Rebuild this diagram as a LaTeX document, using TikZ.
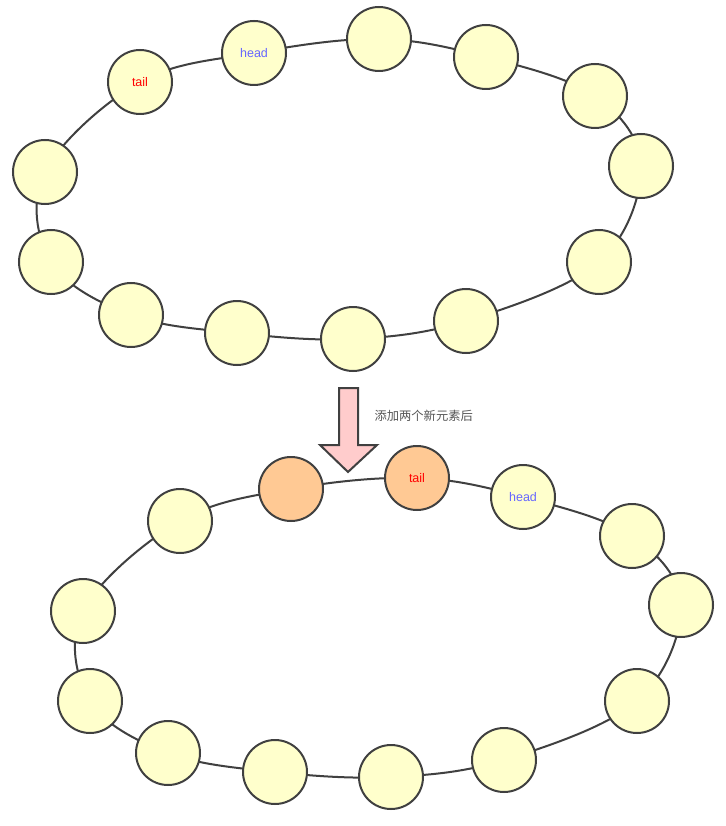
\documentclass[tikz,border=0pt]{standalone}
\usepackage{fontspec}
\setmainfont{Liberation Sans}
\newfontfamily\cjk{Noto Sans CJK SC}
\usetikzlibrary{backgrounds}
\definecolor{ylw}{HTML}{FFFFCC}
\definecolor{org}{HTML}{FFC994}
\definecolor{pnk}{HTML}{FFCCCC}
\definecolor{edge}{HTML}{404040}
\definecolor{headc}{HTML}{6666FF}
\definecolor{lblc}{HTML}{555555}
\tikzset{
  elem/.style={circle, draw=edge, line width=2pt, fill=ylw, minimum size=64pt, inner sep=0pt, font=\fontsize{12.5}{14}\selectfont},
  newelem/.style={elem, fill=org},
  ring/.style={draw=edge, line width=2pt},
}
\begin{document}
\begin{tikzpicture}[x=1pt,y=-1pt]
\useasboundingbox (0,0) rectangle (725,826);
% top ring
\node[elem] (a1) at (140,82) {\textcolor{red}{tail}};
\node[elem] (a2) at (254,53) {\textcolor{headc}{head}};
\node[elem] (a3) at (379,39) {};
\node[elem] (a4) at (486,57) {};
\node[elem] (a5) at (595,96) {};
\node[elem] (a6) at (641,166) {};
\node[elem] (a7) at (599,262) {};
\node[elem] (a8) at (466,321) {};
\node[elem] (a9) at (353,339) {};
\node[elem] (a10) at (237,333) {};
\node[elem] (a11) at (131,315) {};
\node[elem] (a12) at (51,262) {};
\node[elem] (a13) at (45,172) {};
% bottom ring
\node[elem] (b1) at (180,521) {};
\node[newelem] (b2) at (291,489) {};
\node[newelem] (b3) at (417,478) {\textcolor{red}{tail}};
\node[elem] (b4) at (523,497) {\textcolor{headc}{head}};
\node[elem] (b5) at (632,536) {};
\node[elem] (b6) at (681,605) {};
\node[elem] (b7) at (637,701) {};
\node[elem] (b8) at (504,760) {};
\node[elem] (b9) at (391,777) {};
\node[elem] (b10) at (275,772) {};
\node[elem] (b11) at (168,753) {};
\node[elem] (b12) at (90,701) {};
\node[elem] (b13) at (83,611) {};
\begin{pgfonlayer}{background}
\draw[ring] plot[smooth cycle, tension=0.6] coordinates {(a1.center) (a2.center) (a3.center) (a4.center) (a5.center) (a6.center) (a7.center) (a8.center) (a9.center) (a10.center) (a11.center) (a12.center) (a13.center)};
\draw[ring] plot[smooth cycle, tension=0.6] coordinates {(b1.center) (b2.center) (b3.center) (b4.center) (b5.center) (b6.center) (b7.center) (b8.center) (b9.center) (b10.center) (b11.center) (b12.center) (b13.center)};
\end{pgfonlayer}
% arrow
\draw[draw=edge, line width=2pt, fill=pnk, line join=miter] (339,388) -- (358,388) -- (358,445) -- (377,445) -- (348,472) -- (320,445) -- (339,445) -- cycle;
\node[anchor=west, text=lblc, font=\cjk\fontsize{12.3}{14}\selectfont] (lbl) at (371,416) {添加两个新元素后};
\end{tikzpicture}
\end{document}
